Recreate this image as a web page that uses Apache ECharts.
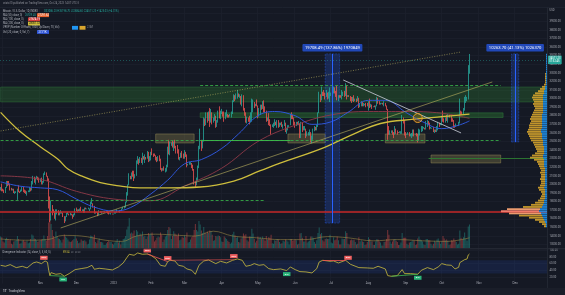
<!DOCTYPE html>
<html><head><meta charset="utf-8">
<script src="https://cdn.jsdelivr.net/npm/echarts/dist/echarts.min.js"></script>
<style>html,body{margin:0;padding:0;background:#151924;}#c{width:565px;height:295px;}</style>
</head><body><div id="c"></div>
<script>
// ---------------- DATA ----------------
const START_DATE = '2022-09-29';
const AXIS_DAYS = 455;           // category axis runs to 2023-12-27 (future whitespace)
const FIRST_OPEN_K = 19.4;
// daily close / high / low in thousands USD, 2022-09-29 .. 2023-10-24
const closeK = [
19.6,19.4,
19.3,19.1,19.6,20.3,20.2,20.0,19.5,19.4,19.4,19.1,19.1,19.2,19.4,19.2,19.1,19.3,19.5,19.3,19.1,19.0,19.2,19.2,19.6,19.3,20.1,20.8,20.3,20.6,20.8,20.6,20.5,
20.5,20.2,20.2,21.1,21.3,20.9,20.6,18.5,15.9,17.6,17.0,16.8,16.3,16.6,16.9,16.7,16.7,16.7,16.7,16.3,15.8,16.2,16.6,16.6,16.5,16.5,16.4,16.2,16.4,17.2,
17.0,17.1,16.9,17.1,17.0,17.1,16.8,17.2,17.1,17.1,17.1,17.2,17.8,17.8,17.4,16.6,16.8,16.7,16.4,16.9,16.8,16.8,16.8,16.8,16.8,16.9,16.7,16.6,16.6,16.6,16.5,
16.6,16.7,16.7,16.9,16.8,17.0,16.9,17.1,17.2,17.4,17.9,18.9,19.9,21.0,20.9,21.2,21.1,20.7,21.1,22.7,22.8,22.7,22.9,22.6,23.1,23.0,23.1,23.0,23.7,22.8,23.1,
23.7,23.5,23.4,23.3,22.9,22.8,23.3,23.0,21.8,21.6,21.9,21.8,21.8,22.2,24.3,23.5,24.6,24.6,24.3,24.8,24.4,24.2,24.0,23.2,23.2,23.6,23.5,23.1,
23.6,23.5,22.4,22.4,22.4,22.4,22.2,21.7,20.4,20.2,20.6,22.2,24.2,24.8,24.4,25.1,27.4,27.0,28.0,27.8,28.2,27.3,28.3,27.5,27.5,28.0,27.1,27.3,28.4,28.0,28.5,
28.5,28.2,27.8,28.2,28.2,28.0,27.9,27.9,28.3,29.7,30.2,29.9,30.4,30.5,30.3,30.3,29.5,30.4,28.8,28.3,27.3,27.8,27.6,27.5,28.3,28.4,29.5,29.3,29.3,29.2,
28.1,28.7,29.0,28.9,29.5,28.9,28.5,27.7,27.7,27.6,27.0,26.8,26.8,26.9,27.2,27.0,27.4,26.8,26.9,27.1,26.8,26.9,27.2,26.3,26.5,26.7,26.9,28.1,27.8,27.7,27.2,
26.8,27.3,27.1,27.1,25.8,27.2,26.4,26.5,26.5,25.9,25.9,25.9,25.9,25.1,25.6,26.3,26.5,26.3,26.9,28.3,30.0,29.9,30.7,30.6,30.5,30.3,30.7,30.1,30.5,30.5,
30.6,30.6,31.2,30.8,30.5,29.9,30.4,30.3,30.2,30.4,30.6,30.4,31.5,30.3,30.3,30.2,30.1,29.9,29.9,29.8,29.9,29.8,30.1,29.2,29.2,29.4,29.2,29.3,29.4,29.3,29.2,
29.7,29.2,29.2,29.1,29.1,29.0,29.2,29.8,29.6,29.4,29.4,29.4,29.3,29.4,29.2,28.7,26.6,26.1,26.1,26.2,26.1,26.0,26.4,26.2,26.1,26.0,26.1,26.1,27.7,27.3,25.9,
25.8,25.9,26.0,25.8,25.8,25.8,26.2,25.9,25.9,25.8,25.2,25.8,26.2,26.5,26.6,26.6,26.5,26.8,27.2,27.1,26.6,26.6,26.6,26.3,26.3,26.2,26.4,27.0,26.9,27.0,
28.0,27.5,27.4,27.8,27.4,27.9,28.0,27.9,27.6,27.4,26.9,26.8,26.9,26.9,27.2,28.5,28.4,28.3,28.7,29.7,29.9,30.0,33.1,34.51
];
const highK = [
19.7,20.1,
19.5,19.4,19.7,20.4,20.4,20.4,20.1,19.6,19.5,19.5,19.2,19.2,19.5,19.9,19.2,19.4,19.7,19.7,19.4,19.3,19.2,19.3,19.7,19.6,20.4,21.0,20.9,20.8,21.0,20.9,20.8,
20.7,20.8,20.4,21.3,21.5,21.4,21.0,20.7,18.6,18.1,17.6,17.1,16.9,17.1,17.1,17.0,16.8,17.0,16.8,16.7,16.3,16.3,16.7,16.8,16.6,16.7,16.6,16.5,16.6,17.2,
17.3,17.1,17.1,17.2,17.4,17.1,17.1,17.3,17.3,17.2,17.3,17.2,18.0,18.4,17.8,17.5,16.8,16.8,16.8,17.0,16.9,16.9,16.9,16.9,16.9,16.9,16.9,16.8,16.7,16.7,16.6,
16.6,16.8,16.8,17.1,16.9,17.0,17.0,17.2,17.4,17.5,18.0,19.1,20.0,21.3,21.0,21.4,21.6,21.6,21.2,22.8,23.3,23.0,23.2,23.1,23.7,23.3,23.5,23.2,23.9,23.8,23.3,
23.8,24.2,23.6,23.6,23.4,23.2,23.3,23.4,23.0,21.9,21.9,22.1,21.9,22.3,24.4,25.2,25.0,24.9,25.1,25.0,25.2,24.5,24.6,24.1,23.2,23.7,23.9,23.6,
24.0,23.8,23.5,22.4,22.6,22.6,22.5,22.3,21.8,20.4,20.8,22.2,24.5,26.5,25.2,25.2,27.8,27.7,28.4,28.4,28.5,28.9,28.8,28.4,27.8,28.2,28.0,27.5,28.6,29.1,28.6,
28.8,28.5,28.5,28.4,28.7,28.2,28.1,28.2,28.5,29.8,30.5,30.4,30.6,31.0,30.6,30.5,30.3,30.5,30.4,28.9,28.4,27.9,27.8,28.0,28.4,30.0,29.9,29.6,29.4,29.9,
29.2,28.9,29.3,29.3,29.7,29.8,29.1,28.6,27.8,28.3,27.6,27.0,27.0,27.2,27.6,27.3,27.5,27.5,27.2,27.2,27.3,27.0,27.5,27.2,26.6,26.9,26.9,28.2,28.4,28.1,27.8,
27.3,27.3,27.3,27.4,27.1,27.3,27.2,26.8,26.8,26.5,26.2,26.1,26.4,26.1,25.7,26.5,26.8,26.7,27.0,28.4,30.8,30.5,31.4,30.8,31.0,30.7,31.0,30.7,30.8,31.3,
30.7,30.8,31.4,31.3,30.9,31.5,30.4,30.4,30.4,31.0,30.8,30.9,31.8,31.6,30.4,30.4,30.3,30.2,30.2,30.4,30.0,30.0,30.3,30.1,29.4,29.7,29.6,29.5,29.4,29.5,29.5,
29.7,30.0,29.4,29.3,29.1,29.2,29.2,30.2,30.1,29.7,29.5,29.5,29.5,29.7,29.5,29.2,28.8,26.8,26.3,26.3,26.3,26.1,26.8,26.5,26.3,26.1,26.2,26.2,28.1,27.8,27.5,
26.1,25.9,26.1,26.1,25.9,26.0,26.4,26.4,25.9,26.0,25.9,26.5,26.4,26.8,26.8,26.7,26.6,27.4,27.5,27.4,27.2,26.7,26.6,26.7,26.4,26.4,26.8,27.3,27.2,27.1,
28.0,28.6,27.7,27.8,28.1,28.2,28.0,28.1,28.0,27.7,27.5,26.9,27.1,26.9,27.3,30.0,28.6,28.5,28.9,30.2,30.4,30.2,33.9,35.2
];
const lowK = [
19.3,19.2,
19.2,19.0,19.0,19.6,19.8,19.9,19.3,19.3,19.3,19.0,18.9,19.0,18.2,19.1,19.0,19.1,19.2,19.1,19.0,18.9,18.7,19.1,19.1,19.2,19.3,20.0,20.2,20.0,20.6,20.5,20.2,
20.3,20.0,20.0,20.2,21.1,20.9,20.4,17.2,15.6,15.8,16.4,16.7,16.0,15.8,16.5,16.4,16.4,16.6,16.6,16.2,15.5,15.7,16.2,16.5,16.4,16.4,16.4,16.0,16.2,16.4,
16.9,16.8,16.9,16.9,16.9,16.9,16.7,16.7,17.1,17.1,17.1,16.9,17.1,17.7,17.3,16.6,16.6,16.7,16.3,16.4,16.7,16.6,16.8,16.8,16.7,16.8,16.6,16.5,16.6,16.5,16.5,
16.5,16.6,16.6,16.7,16.8,16.7,16.9,16.9,17.1,17.2,17.3,17.9,18.7,19.9,20.6,20.6,20.9,20.4,20.7,21.0,22.4,22.3,22.5,22.5,22.3,22.9,22.5,22.9,23.0,22.6,22.7,
22.8,23.4,23.2,23.3,22.8,22.6,22.7,22.7,21.7,21.5,21.6,21.6,21.4,21.5,22.0,23.5,23.4,24.5,24.3,23.9,24.2,23.6,23.6,22.9,22.8,23.1,23.1,23.0,
23.0,23.2,22.0,22.2,22.3,22.3,21.9,21.6,20.0,19.6,19.9,20.4,21.9,24.1,23.9,24.2,25.0,26.8,26.9,27.2,27.4,26.7,27.2,27.0,27.2,27.4,26.6,26.7,27.2,27.7,27.6,
28.2,27.9,27.3,27.6,27.9,27.8,27.8,27.9,27.8,28.2,29.6,29.7,29.9,30.0,30.2,30.1,29.3,29.1,28.6,28.0,27.2,27.1,27.3,27.0,27.2,27.3,28.4,28.9,29.1,29.1,
27.7,27.9,28.1,28.7,28.8,28.4,28.4,27.3,27.4,26.9,26.8,25.8,26.7,26.6,26.8,26.9,26.6,26.6,26.7,26.9,26.7,26.5,26.8,26.1,25.9,26.3,26.7,26.9,27.6,27.6,26.9,
26.6,26.8,26.9,26.9,25.4,25.4,26.1,26.3,26.3,25.4,25.6,25.7,25.7,24.9,24.8,25.2,26.2,26.3,26.3,26.7,28.3,29.6,29.8,30.3,30.3,29.9,30.2,29.9,30.0,29.6,
30.3,30.2,30.6,30.6,30.2,29.8,29.7,30.1,30.1,29.9,30.3,30.2,30.3,29.9,30.2,30.2,29.7,29.5,29.7,29.6,29.7,29.6,29.7,28.9,29.0,29.1,29.1,29.1,29.2,29.0,29.1,
28.6,28.9,29.0,28.8,29.0,29.0,28.7,29.1,29.4,29.3,29.3,29.4,29.3,29.1,29.1,28.7,25.2,25.8,25.8,26.0,25.8,25.4,25.8,25.9,25.8,26.0,26.0,25.9,25.9,27.1,25.7,
25.4,25.8,25.8,25.6,25.6,25.4,25.6,25.6,25.8,25.6,24.9,25.1,25.7,26.1,26.2,26.5,26.4,26.4,26.7,26.9,26.4,26.5,26.5,26.1,26.0,26.1,26.1,26.3,26.7,26.9,
26.9,27.3,27.2,27.2,27.4,27.2,27.9,27.8,27.3,27.3,26.6,26.6,26.7,26.8,26.8,27.1,28.1,28.1,28.2,28.6,29.5,29.7,29.9,32.9
];
// daily volume, relative units
const volume = [
38,36,
22,18,30,34,30,26,28,14,12,22,24,26,40,30,14,16,24,26,22,22,24,16,18,30,45,42,32,30,26,20,24,
26,28,30,42,30,24,40,85,95,80,60,40,32,55,38,32,30,26,18,28,45,38,34,28,22,20,22,26,30,40,
32,24,16,18,28,24,24,26,22,12,14,28,42,40,36,44,20,16,26,32,20,20,18,10,10,16,20,24,20,20,14,
12,18,22,30,18,24,12,20,30,32,40,62,72,100,48,52,48,58,40,60,55,42,48,44,55,38,40,30,38,50,44,
48,52,40,22,26,34,38,36,52,44,20,28,38,42,60,70,66,30,40,56,48,44,40,48,26,28,36,34,
42,36,52,18,20,28,36,40,60,80,60,55,90,78,58,50,70,52,48,55,50,58,56,44,24,26,40,38,42,40,36,
22,20,38,34,30,24,20,14,18,46,54,42,34,36,20,18,32,36,48,42,46,26,22,38,38,64,48,30,18,24,
38,34,36,30,38,30,24,40,28,36,34,44,16,14,26,24,30,28,20,14,16,24,22,28,26,22,12,30,30,24,26,
28,26,12,14,48,50,34,22,22,40,18,22,24,38,38,34,20,14,26,50,68,46,50,26,22,30,32,30,30,44,
18,16,36,26,28,38,26,12,12,32,30,30,56,50,14,12,26,28,26,28,20,12,14,36,22,26,22,20,10,12,20,
36,30,22,22,10,10,22,30,28,22,18,8,8,20,22,30,60,44,22,14,22,28,30,24,20,10,10,18,50,34,34,
34,14,10,18,20,22,26,24,10,12,32,38,28,26,22,12,10,30,30,26,26,14,8,14,24,20,28,32,22,14,
22,40,32,26,28,24,10,12,26,24,32,24,20,12,14,58,34,28,36,52,30,24,72,78
];
// moving averages, [date, thousands USD]
const ma50K = [['2022-09-29',20.3],['2022-10-15',19.8],['2022-11-01',19.6],['2022-11-15',19.4],['2022-12-01',18.3],['2022-12-15',17.4],['2023-01-01',16.9],['2023-01-15',17.3],['2023-02-01',18.9],['2023-02-15',20.5],['2023-03-01',22.4],['2023-03-15',22.9],['2023-04-01',24.2],['2023-04-15',25.9],['2023-05-01',28.0],['2023-05-15',28.5],['2023-06-01',28.0],['2023-06-15',27.0],['2023-07-01',27.3],['2023-07-15',28.4],['2023-08-01',29.8],['2023-08-15',29.8],['2023-09-01',28.4],['2023-09-15',27.3],['2023-10-01',26.5],['2023-10-15',26.9],['2023-10-24',27.4]];
const ma100K = [['2022-09-29',21.0],['2022-11-01',20.6],['2022-12-01',19.2],['2023-01-01',18.3],['2023-02-01',18.1],['2023-03-01',19.8],['2023-04-01',21.9],['2023-05-01',25.0],['2023-06-01',26.9],['2023-07-01',28.1],['2023-08-01',28.5],['2023-09-01',28.5],['2023-10-01',28.3],['2023-10-24',27.7]];
const ma200K = [['2022-09-29',28.4],['2022-10-15',26.2],['2022-11-01',24.4],['2022-11-16',22.9],['2022-11-24',21.8],['2022-12-05',21.0],['2022-12-21',20.2],['2023-01-07',19.8],['2023-01-23',19.6],['2023-02-15',19.6],['2023-03-14',19.7],['2023-04-11',20.4],['2023-05-03',21.6],['2023-05-20',22.5],['2023-06-25',24.3],['2023-07-20',25.9],['2023-08-11',27.1],['2023-09-08',27.6],['2023-10-01',27.9],['2023-10-24',28.2]];
const volMa = [['2022-09-29',30],['2022-10-20',26],['2022-11-07',28],['2022-11-20',42],['2022-12-05',40],['2022-12-25',26],['2023-01-08',22],['2023-01-20',40],['2023-02-05',46],['2023-02-25',42],['2023-03-10',40],['2023-03-25',56],['2023-04-10',40],['2023-04-30',34],['2023-05-20',28],['2023-06-10',28],['2023-06-28',38],['2023-07-15',34],['2023-08-05',24],['2023-08-25',28],['2023-09-15',24],['2023-10-05',22],['2023-10-24',34]];
// oscillator (lower pane)
const osc = [['2022-09-29',55],['2022-10-03',52],['2022-10-07',57],['2022-10-12',48],['2022-10-17',52],['2022-10-21',47],['2022-10-26',62],['2022-10-29',65],['2022-11-02',60],['2022-11-05',68],['2022-11-07',64],['2022-11-08',40],['2022-11-09',24],['2022-11-10',33],['2022-11-14',28],['2022-11-18',30],['2022-11-21',22],['2022-11-25',30],['2022-11-30',42],['2022-12-05',45],['2022-12-10',48],['2022-12-14',55],['2022-12-16',43],['2022-12-20',46],['2022-12-25',44],['2022-12-31',41],['2023-01-05',50],['2023-01-09',62],['2023-01-12',78],['2023-01-14',88],['2023-01-18',85],['2023-01-21',92],['2023-01-25',88],['2023-01-29',89],['2023-02-01',85],['2023-02-05',75],['2023-02-09',55],['2023-02-13',52],['2023-02-15',66],['2023-02-17',70],['2023-02-21',68],['2023-02-24',55],['2023-02-28',52],['2023-03-03',44],['2023-03-07',40],['2023-03-10',28],['2023-03-13',55],['2023-03-17',68],['2023-03-21',71],['2023-03-27',60],['2023-03-31',67],['2023-04-05',62],['2023-04-10',70],['2023-04-14',74],['2023-04-18',70],['2023-04-21',52],['2023-04-25',55],['2023-04-28',60],['2023-05-02',55],['2023-05-06',57],['2023-05-10',45],['2023-05-14',42],['2023-05-20',44],['2023-05-25',39],['2023-05-28',50],['2023-06-01',42],['2023-06-05',36],['2023-06-10',35],['2023-06-15',32],['2023-06-19',45],['2023-06-21',65],['2023-06-24',70],['2023-06-30',67],['2023-07-03',68],['2023-07-07',62],['2023-07-13',70],['2023-07-17',58],['2023-07-24',48],['2023-07-31',47],['2023-08-05',46],['2023-08-09',52],['2023-08-15',44],['2023-08-17',24],['2023-08-20',22],['2023-08-25',24],['2023-08-29',42],['2023-08-31',30],['2023-09-05',30],['2023-09-11',28],['2023-09-14',40],['2023-09-19',48],['2023-09-24',42],['2023-09-28',50],['2023-10-01',60],['2023-10-05',56],['2023-10-09',55],['2023-10-12',44],['2023-10-15',49],['2023-10-16',63],['2023-10-20',72],['2023-10-22',74],['2023-10-23',86],['2023-10-24',89]];
const bearSignals = [['2022-11-04',67],['2023-01-29',89],['2023-02-15',66],['2023-04-11',72],['2023-07-15',67]];
const bullSignals = [['2022-11-20',23],['2023-05-25',39],['2023-09-11',28]];
// price axis ticks
const priceMin = 12000, priceMax = 41000, priceStep = 1000;
const oscMin = 0, oscMax = 100, oscStep = 20;
// visible-range volume profile, bins of 250 from 15000
const profileStart = 15000, profileStep = 250;
const profileTotal = [3,5,8,12,18,28,38,46,40,24, 16,12,9,7,6,5,6,8,9,7, 6,6,7,6,6,7,6,7,8,9, 10,13,17,15,12,10,11,12,13,14, 16,17,18,19,20,19,18,18,17,16, 17,16,15,14,13,12,13,14,13,14, 15,14,12,9,7,5,3,2,2,2, 2,2,1,1,1,1,1,1,1,1, 1];
const profileUp    = [1,1,2,3,4,5,6,8,7,5, 4,3,3,2,2,2,2,2,3,2, 2,2,2,2,2,2,2,2,3,3, 3,3,4,4,3,3,3,3,4,4, 4,5,5,5,6,6,5,5,5,5, 5,5,5,4,4,4,4,4,4,4, 4,4,3,3,2,2,1,1,1,1, 1,1,1,1,1,1,1,1,1,1, 1];
const pocBins = ['16500','16750','17000'];
const lastPrice = 34511.23;
const levels = {bigZoneLo:29606, bigZoneHi:31354, smallZoneLo:27800, smallZoneHi:28340,
  dash1:31590, dash2:25180, dash3:18190, poc:16790, support:23080};
const measure1 = {from:'2023-06-26', to:'2023-07-08', mid:'2023-07-02', lo:15502, hi:35210, text:'19708.49 (137.86%) 1970849'};
const measure2 = {from:'2023-11-28', to:'2023-12-04', mid:'2023-12-01', lo:24946, hi:35210, text:'10263.70 (41.13%) 1026370'};
const boxes = [['2023-02-05','2023-03-09',24830,25880],['2023-05-26','2023-06-26',24830,25880],['2023-08-15','2023-09-17',24830,25880],['2023-09-22','2023-11-19',22500,23430]];

// ---------------- BUILD ----------------
const dates = [];
const t0 = Date.parse(START_DATE + 'T00:00:00Z');
for (let i = 0; i < AXIS_DAYS; i++) dates.push(new Date(t0 + i * 86400000).toISOString().slice(0, 10));
const LAST = dates[dates.length - 1], FIRST = dates[0];
const n = Math.min(closeK.length, highK.length, lowK.length);
const candles = [];
for (let i = 0; i < n; i++) {
  const o = i ? closeK[i - 1] : FIRST_OPEN_K;
  candles.push([o * 1000, closeK[i] * 1000, lowK[i] * 1000, highK[i] * 1000]);
}
const UP = '#26a69a', DN = '#ef5350';
const volData = volume.slice(0, n).map((v, i) => ({value: v, itemStyle: {color: candles[i][1] >= candles[i][0] ? 'rgba(38,166,154,0.45)' : 'rgba(239,83,80,0.45)'}}));
const toUsd = arr => arr.map(d => [d[0], d[1] * 1000]);
const bins = [];
for (let p = priceMin; p < priceMax; p += profileStep) bins.push(String(p));
const profIdx = b => (+b - profileStart) / profileStep;
const profUpData = bins.map(b => { const k = profIdx(b); return (k >= 0 && k < profileUp.length) ? profileUp[k] : 0; });
const profDnData = bins.map(b => { const k = profIdx(b); const v = (k >= 0 && k < profileTotal.length) ? profileTotal[k] - profileUp[k] : 0;
  return pocBins.includes(b) ? {value: v, itemStyle: {color: b === '16750' ? '#f07a6a' : '#eb9b6e'}} : v; });

const isMonthTick = (i, v) => v.slice(8) === '01';
const isMonthLabel = (i, v) => v.slice(8) === '01' && v !== '2022-10-01';
const MN = ['Jan','Feb','Mar','Apr','May','Jun','Jul','Aug','Sep','Oct','Nov','Dec'];
const GRID_C = '#1c202c';
const AX_TXT = '#a3a6af';
const FONT = 'Roboto';
const G = '#35a846';

const zones = [
  [{xAxis: FIRST, yAxis: levels.bigZoneLo, itemStyle: {color: 'rgba(46,125,50,0.33)', borderColor: 'rgba(60,150,70,0.5)', borderWidth: 0.6}}, {xAxis: LAST, yAxis: levels.bigZoneHi}],
  [{xAxis: '2023-03-14', yAxis: levels.smallZoneLo, itemStyle: {color: 'rgba(46,125,50,0.40)', borderColor: 'rgba(60,150,70,0.6)', borderWidth: 0.6}}, {xAxis: '2023-11-21', yAxis: levels.smallZoneHi}],
  ...boxes.map(b => [{xAxis: b[0], yAxis: b[2], itemStyle: {color: 'rgba(150,140,80,0.33)', borderColor: 'rgba(160,150,90,0.7)', borderWidth: 0.6}}, {xAxis: b[1], yAxis: b[3]}]),
  ...[measure1, measure2].map(m => [{name: m.text, xAxis: m.from, yAxis: m.lo,
      itemStyle: {color: 'rgba(41,98,255,0.22)', borderColor: 'rgba(41,98,255,0.6)', borderWidth: 0.6, borderType: [2, 1]},
      label: {show: true, position: 'top', distance: 2, formatter: '{b}', color: '#fff', fontSize: 4.2, fontFamily: FONT,
        backgroundColor: '#2148b8', padding: [2, 2.5, 1.6, 2.5], borderRadius: 1}},
    {xAxis: m.to, yAxis: m.hi}])
];
const seg = (d1, p1, d2, p2, ls) => [{coord: [d1, p1], lineStyle: ls}, {coord: [d2, p2]}];
const axisTag = (v, text, bg, fg, lineStyle) => ({yAxis: v, lineStyle: lineStyle || {opacity: 0},
  label: {show: true, position: 'end', distance: 1, formatter: text, backgroundColor: bg, color: fg, fontSize: 2.7, fontFamily: FONT, padding: [1, 1.2], lineHeight: 3.2}});
const lines = [
  seg(FIRST, 26230, '2023-10-17', 35430, {color: 'rgba(190,180,95,0.75)', width: 0.8, type: [1, 1.5]}),
  seg('2022-11-18', 14930, '2023-11-12', 31940, {color: 'rgba(190,180,95,0.75)', width: 0.8, type: 'solid'}),
  seg('2023-07-11', 32170, '2023-10-17', 26000, {color: '#b9bdc7', width: 0.9, type: 'solid'}),
  seg('2023-03-14', levels.dash1, '2023-11-19', levels.dash1, {color: G, width: 0.9, type: [3, 2]}),
  seg(FIRST, levels.dash2, '2023-11-19', levels.dash2, {color: G, width: 0.9, type: [3, 2]}),
  seg('2023-03-14', levels.dash2, '2023-05-28', levels.dash2, {color: '#3dbb4c', width: 0.9, type: 'solid'}),
  seg(FIRST, levels.dash3, '2023-05-07', levels.dash3, {color: G, width: 0.9, type: [3, 2]}),
  seg('2023-09-20', levels.support, LAST, levels.support, {color: '#2e7d32', width: 0.9, type: 'solid'}),
  {yAxis: levels.poc, lineStyle: {color: '#c62828', width: 1.6, type: 'solid'}},
  seg(measure1.mid, measure1.lo, measure1.mid, measure1.hi, {color: '#2962ff', width: 1, type: 'solid'}),
  seg(measure2.mid, measure2.lo, measure2.mid, measure2.hi, {color: '#2962ff', width: 1, type: 'solid'}),
  axisTag(lastPrice, lastPrice.toFixed(2) + '\n07:52:45', '#26a69a', '#fff', {color: 'rgba(38,166,154,0.7)', width: 0.6, type: [1, 2]}),
  axisTag(levels.dash2, levels.dash2.toFixed(2), '#1fd11f', '#111'),
  axisTag(levels.support, levels.support.toFixed(2), '#1fd11f', '#111')
];

const sig = (arr, name, color, off) => arr.map(s => ({name: name, coord: s, symbol: 'rect', symbolSize: [7.5, 4], symbolOffset: [0, off],
  itemStyle: {color: color}, label: {show: true, position: 'inside', formatter: '{b}', color: '#fff', fontSize: 2.3, fontFamily: FONT}}));

const option = {
  backgroundColor: '#151924',
  animation: false,
  textStyle: {fontFamily: FONT},
  grid: [
    {left: 0, right: 18, top: 4.2, height: 248.9},
    {left: 0, right: 18, top: 218, height: 30},
    {right: 18, width: 100, top: 4.2, height: 248.9},
    {left: 0, right: 18, top: 250.3, height: 33.3}
  ],
  xAxis: [
    {type: 'category', gridIndex: 0, data: dates, axisLine: {show: false}, axisTick: {show: false}, axisLabel: {show: false},
      splitLine: {show: true, interval: isMonthTick, lineStyle: {color: GRID_C, width: 0.8}}},
    {type: 'category', gridIndex: 1, data: dates, show: false},
    {type: 'value', gridIndex: 2, min: 0, max: 100, inverse: true, show: false},
    {type: 'category', gridIndex: 3, data: dates, axisLine: {show: false}, axisTick: {show: false},
      axisLabel: {interval: isMonthLabel, margin: -2, fontSize: 3, color: AX_TXT, fontFamily: FONT,
        formatter: v => { const m = +v.slice(5, 7); return m === 1 ? v.slice(0, 4) : MN[m - 1]; }},
      splitLine: {show: true, interval: isMonthTick, lineStyle: {color: GRID_C, width: 0.8}}}
  ],
  yAxis: [
    {type: 'value', gridIndex: 0, position: 'right', min: priceMin, max: priceMax, interval: priceStep, scale: false,
      axisLine: {show: false}, axisTick: {show: false},
      splitLine: {show: true, showMinLine: false, showMaxLine: false, lineStyle: {color: GRID_C, width: 0.8}},
      axisLabel: {margin: 2.5, fontSize: 2.7, color: AX_TXT, fontFamily: FONT, formatter: v => (v < 12500 || v > 39500) ? '' : v.toFixed(2)}},
    {type: 'value', gridIndex: 1, min: 0, max: 100, show: false},
    {type: 'category', gridIndex: 2, data: bins, show: false},
    {type: 'value', gridIndex: 3, position: 'right', min: oscMin, max: oscMax, interval: oscStep,
      axisLine: {show: false}, axisTick: {show: false},
      splitLine: {show: true, showMinLine: false, lineStyle: {color: GRID_C, width: 0.8}},
      axisLabel: {margin: 2.5, fontSize: 2.7, color: AX_TXT, fontFamily: FONT, formatter: v => v === 0 ? '' : v.toFixed(2)}}
  ],
  series: [
    {type: 'candlestick', xAxisIndex: 0, yAxisIndex: 0, data: candles, barWidth: 0.6, z: 3,
      itemStyle: {color: UP, color0: DN, borderColor: UP, borderColor0: DN, borderWidth: 0.8},
      markArea: {silent: true, label: {show: false}, data: zones},
      markLine: {silent: true, symbol: ['none', 'none'], label: {show: false}, data: lines},
      markPoint: {silent: true, data: [{coord: ['2023-09-11', 27740], symbol: 'circle', symbolSize: 9,
        itemStyle: {color: 'rgba(255,152,0,0.22)', borderColor: '#e39b2e', borderWidth: 1}, label: {show: false}}]}},
    {type: 'line', xAxisIndex: 0, yAxisIndex: 0, data: toUsd(ma100K), smooth: 0.4, showSymbol: false, z: 4,
      lineStyle: {color: '#8e3a48', width: 0.9}},
    {type: 'line', xAxisIndex: 0, yAxisIndex: 0, data: toUsd(ma200K), smooth: 0.4, showSymbol: false, z: 4,
      lineStyle: {color: '#cdbd3c', width: 1.3}},
    {type: 'line', xAxisIndex: 0, yAxisIndex: 0, data: toUsd(ma50K), smooth: 0.4, showSymbol: false, z: 4,
      lineStyle: {color: '#2f56d8', width: 1}},
    {type: 'bar', xAxisIndex: 1, yAxisIndex: 1, data: volData, barWidth: 0.9, z: 2},
    {type: 'line', xAxisIndex: 1, yAxisIndex: 1, data: volMa, smooth: 0.4, showSymbol: false, z: 3,
      lineStyle: {color: 'rgba(160,140,70,0.8)', width: 0.7}},
    {type: 'bar', xAxisIndex: 2, yAxisIndex: 2, data: profUpData, stack: 'vp', barCategoryGap: '15%', z: 5,
      itemStyle: {color: 'rgba(33,150,243,0.85)'}},
    {type: 'bar', xAxisIndex: 2, yAxisIndex: 2, data: profDnData, stack: 'vp', barCategoryGap: '15%', z: 5,
      itemStyle: {color: 'rgba(222,170,45,0.85)'}},
    {type: 'line', xAxisIndex: 3, yAxisIndex: 3, data: osc, showSymbol: false, z: 4,
      lineStyle: {color: '#cbbd3e', width: 0.8},
      markArea: {silent: true, label: {show: false}, data: [[{yAxis: 30, itemStyle: {color: 'rgba(41,98,255,0.12)'}}, {yAxis: 70}]]},
      markLine: {silent: true, symbol: ['none', 'none'], label: {show: false}, data: [
        seg('2022-11-09', 24, '2022-11-21', 22, {color: '#3fb950', width: 0.8, type: 'solid'}),
        seg('2023-01-29', 89, '2023-02-15', 66, {color: DN, width: 0.8, type: 'solid'}),
        seg('2023-02-17', 70, '2023-04-11', 72, {color: DN, width: 0.6, type: 'solid'}),
        seg('2023-06-24', 70, '2023-07-13', 70, {color: DN, width: 0.8, type: 'solid'}),
        seg('2023-08-20', 22, '2023-09-11', 28, {color: '#3fb950', width: 0.8, type: 'solid'})
      ]},
      markPoint: {silent: true, data: [...sig(bearSignals, 'Bear', '#f06060', -3.5), ...sig(bullSignals, 'Bull', '#2bb57a', 3.5)]}}
  ],
  graphic: [
    {type: 'rect', z: 100, shape: {x: 0, y: 0, width: 565, height: 7.5}, style: {fill: '#171b26'}},
    {type: 'line', z: 100, shape: {x1: 0, y1: 7.5, x2: 565, y2: 7.5}, style: {stroke: '#242834', lineWidth: 0.6}},
    {type: 'text', z: 101, x: 3, y: 3.8, style: {text: 'cristo10 published on TradingView.com, Oct 24, 2023 14:07 UTC-3', fill: '#8c8f98', fontSize: 2.6, fontFamily: FONT, verticalAlign: 'middle'}},
    {type: 'text', z: 101, x: 3, y: 11, style: {text: 'Bitcoin / U.S. Dollar, 1D, INDEX', fill: '#b2b5be', fontSize: 2.6, fontFamily: FONT, verticalAlign: 'middle'}},
    {type: 'text', z: 101, x: 44, y: 11, style: {text: 'O33086.20 H35198.70 L32884.60 C34511.23 +1425.03 (+4.31%)', fill: '#26a69a', fontSize: 2.6, fontFamily: FONT, verticalAlign: 'middle'}},
    {type: 'text', z: 101, x: 3, y: 15.2, style: {text: 'MA (50, close, 0)', fill: '#b2b5be', fontSize: 2.6, fontFamily: FONT, verticalAlign: 'middle'}},
    {type: 'text', z: 101, x: 25, y: 15.2, style: {text: '26929.45', fill: '#26a69a', fontSize: 2.6, fontFamily: FONT, verticalAlign: 'middle'}},
    {type: 'rect', z: 101, shape: {x: 37, y: 13.3, width: 12, height: 3.8}, style: {fill: '#e8612c'}},
    {type: 'text', z: 102, x: 38, y: 15.2, style: {text: '27291.62', fill: '#fff', fontSize: 2.6, fontFamily: FONT, verticalAlign: 'middle'}},
    {type: 'text', z: 101, x: 3, y: 19.4, style: {text: 'MA (100, close, 0)', fill: '#b2b5be', fontSize: 2.6, fontFamily: FONT, verticalAlign: 'middle'}},
    {type: 'rect', z: 101, shape: {x: 28, y: 17.5, width: 12, height: 3.8}, style: {fill: '#d43a3a'}},
    {type: 'text', z: 102, x: 29, y: 19.4, style: {text: '27674.19', fill: '#fff', fontSize: 2.6, fontFamily: FONT, verticalAlign: 'middle'}},
    {type: 'text', z: 101, x: 3, y: 23.6, style: {text: 'MA (200, close, 0)', fill: '#b2b5be', fontSize: 2.6, fontFamily: FONT, verticalAlign: 'middle'}},
    {type: 'rect', z: 101, shape: {x: 28, y: 21.7, width: 12, height: 3.8}, style: {fill: '#cdbd3c'}},
    {type: 'text', z: 102, x: 29, y: 23.6, style: {text: '28051.33', fill: '#111', fontSize: 2.6, fontFamily: FONT, verticalAlign: 'middle'}},
    {type: 'text', z: 101, x: 3, y: 27.8, style: {text: 'VRVP (Number Of Rows, 1000, Up/Down, 70, Vol)', fill: '#b2b5be', fontSize: 2.6, fontFamily: FONT, verticalAlign: 'middle'}},
    {type: 'rect', z: 101, shape: {x: 72, y: 25.9, width: 6, height: 3.8}, style: {fill: '#2196f3'}},
    {type: 'rect', z: 101, shape: {x: 79.5, y: 25.9, width: 6, height: 3.8}, style: {fill: '#d9a62e'}},
    {type: 'text', z: 101, x: 87, y: 27.8, style: {text: '2.5M', fill: '#8c8f98', fontSize: 2.6, fontFamily: FONT, verticalAlign: 'middle'}},
    {type: 'text', z: 101, x: 3, y: 32, style: {text: 'Vol (20, close, 0, Vol, 7)', fill: '#b2b5be', fontSize: 2.6, fontFamily: FONT, verticalAlign: 'middle'}},
    {type: 'rect', z: 101, shape: {x: 37, y: 30.1, width: 12, height: 3.8}, style: {fill: '#2f56d8'}},
    {type: 'text', z: 102, x: 38.5, y: 32, style: {text: '27.71K', fill: '#fff', fontSize: 2.6, fontFamily: FONT, verticalAlign: 'middle'}},
    {type: 'text', z: 101, x: 549.5, y: 10.5, style: {text: 'USD', fill: AX_TXT, fontSize: 2.7, fontFamily: FONT, verticalAlign: 'middle'}},
    {type: 'line', z: 100, shape: {x1: 0, y1: 248.8, x2: 565, y2: 248.8}, style: {stroke: '#2a2e39', lineWidth: 1}},
    {type: 'line', z: 100, shape: {x1: 547.5, y1: 7.5, x2: 547.5, y2: 288}, style: {stroke: '#252935', lineWidth: 0.8}},
    {type: 'text', z: 101, x: 2.5, y: 252, style: {text: 'Divergence Indicator (14, close, 5, 5, 60, 5)', fill: '#b2b5be', fontSize: 2.6, fontFamily: FONT, verticalAlign: 'middle'}},
    {type: 'text', z: 101, x: 63, y: 252, style: {text: '89.54', fill: '#cbbd3e', fontSize: 2.6, fontFamily: FONT, verticalAlign: 'middle'}},
    {type: 'text', z: 101, x: 71, y: 252, style: {text: '\u2205 \u2205 \u2205', fill: '#8c8f98', fontSize: 2.6, fontFamily: FONT, verticalAlign: 'middle'}},
    {type: 'rect', z: 100, shape: {x: 0, y: 288, width: 565, height: 7}, style: {fill: '#1a1e29'}},
    {type: 'text', z: 101, x: 3, y: 291.5, style: {text: '17', fill: '#c7c9d1', fontSize: 3, fontWeight: 'bold', fontFamily: FONT, verticalAlign: 'middle'}},
    {type: 'text', z: 101, x: 8.5, y: 291.5, style: {text: 'TradingView', fill: '#c7c9d1', fontSize: 3, fontFamily: FONT, verticalAlign: 'middle'}}
  ]
};
const chart = echarts.init(document.getElementById('c'), null, {renderer: 'canvas', width: 565, height: 295});
chart.setOption(option);
</script></body></html>
